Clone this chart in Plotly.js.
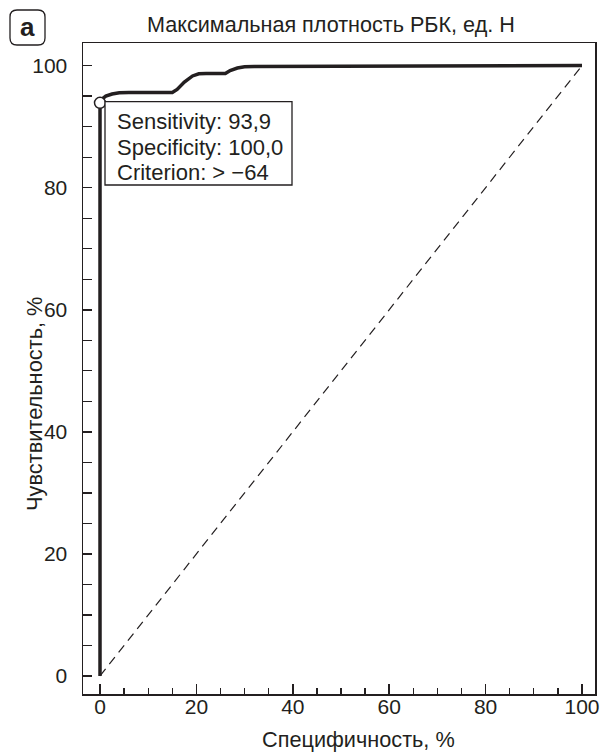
<!DOCTYPE html>
<html>
<head>
<meta charset="utf-8">
<script src="https://cdn.plot.ly/plotly-3.0.1.min.js"></script>
<style>html,body{margin:0;padding:0;background:#fff;}</style>
</head>
<body>
<div id="chart" style="width:601px;height:752px;"></div>
<script>
// ROC curve (x = 100 - specificity, y = sensitivity)
const rocX = [0, 0, 0.4, 1.2, 2.5, 4, 6, 15, 16, 17.5, 19.2, 20.5, 22, 26, 27, 28.5, 30, 32, 100];
const rocY = [0, 93.9, 94.5, 95.0, 95.35, 95.55, 95.6, 95.6, 96.1, 97.3, 98.3, 98.65, 98.7, 98.7, 99.2, 99.6, 99.8, 99.85, 100];
const refX = [0, 100];
const refY = [0, 100];
const cutX = [0];
const cutY = [93.9];
const boxLines = ["Sensitivity: 93,9", "Specificity: 100,0", "Criterion: > \u221264"];
const titleText = "Максимальная плотность РБК, ед. Н";
const xTitle = "Специфичность, %";
const yTitle = "Чувствительность, %";
const panelLabel = "a";

const W = 601, H = 752;
const M = {l: 83, r: 6, t: 43, b: 58};
const pw = W - M.l - M.r, ph = H - M.t - M.b;
const px = x => (x - M.l) / pw;      // pixel -> paper x
const py = y => (H - M.b - y) / ph;  // pixel -> paper y

const FONT = "Liberation Sans, Arial, Helvetica, sans-serif";
const ink = "#231f20";

function roundRect(x0, y0, x1, y1, r) {
  const X = v => px(v), Y = v => py(v);
  return `M ${X(x0 + r)} ${Y(y0)} L ${X(x1 - r)} ${Y(y0)} Q ${X(x1)} ${Y(y0)} ${X(x1)} ${Y(y0 + r)} ` +
         `L ${X(x1)} ${Y(y1 - r)} Q ${X(x1)} ${Y(y1)} ${X(x1 - r)} ${Y(y1)} ` +
         `L ${X(x0 + r)} ${Y(y1)} Q ${X(x0)} ${Y(y1)} ${X(x0)} ${Y(y1 - r)} ` +
         `L ${X(x0)} ${Y(y0 + r)} Q ${X(x0)} ${Y(y0)} ${X(x0 + r)} ${Y(y0)} Z`;
}

const traces = [
  {x: refX, y: refY, mode: "lines", line: {color: ink, width: 1.2, dash: "9px,6px"}, hoverinfo: "skip"},
  {x: rocX, y: rocY, mode: "lines", line: {color: ink, width: 3.5, shape: "linear"}, hoverinfo: "skip"},
  {x: cutX, y: cutY, mode: "markers", marker: {symbol: "circle", size: 11, color: "#fff", line: {color: ink, width: 1.5}}, hoverinfo: "skip"}
];

// info box (pixel layout next to the cut-off marker)
const boxL = 105, boxT = 101.7, boxR = 292, boxB = 185, textL = 115, lineY0 = 122, lineStep = 25;
const boxAnn = boxLines.map((t, i) => ({
  xref: "paper", yref: "paper", x: px(textL), y: py(lineY0 + i * lineStep), text: t, showarrow: false,
  xanchor: "left", yanchor: "middle", align: "left", font: {size: 22, color: ink}
}));

const layout = {
  width: W, height: H,
  margin: M,
  paper_bgcolor: "#fff", plot_bgcolor: "#fff",
  showlegend: false,
  font: {family: FONT, color: ink, size: 21},
  xaxis: {
    range: [-3.53, 102.7], showgrid: false, zeroline: false,
    showline: true, linecolor: ink, linewidth: 1.5, mirror: true,
    tick0: 0, dtick: 20, ticks: "inside", ticklen: 10, tickwidth: 1.5, tickcolor: ink,
    minor: {dtick: 5, tick0: 0, ticks: "inside", ticklen: 6, tickwidth: 1.3, tickcolor: ink, showgrid: false},
    tickfont: {size: 21, color: ink}, ticklabelstandoff: -7
  },
  yaxis: {
    range: [-2.95, 103.7], showgrid: false, zeroline: false,
    showline: true, linecolor: ink, linewidth: 1.5, mirror: true,
    tick0: 0, dtick: 20, ticks: "inside", ticklen: 9, tickwidth: 1.5, tickcolor: ink,
    minor: {dtick: 5, tick0: 0, ticks: "inside", ticklen: 9, tickwidth: 1.3, tickcolor: ink, showgrid: false},
    tickfont: {size: 21, color: ink}, ticklabelstandoff: 10
  },
  shapes: [
    {type: "path", xref: "paper", yref: "paper", path: roundRect(10, 10, 45, 45, 7),
     line: {color: ink, width: 1.3}, fillcolor: "rgba(0,0,0,0)"},
    {type: "rect", xref: "paper", yref: "paper", x0: px(boxL), x1: px(boxR), y0: py(boxB), y1: py(boxT),
     line: {color: ink, width: 1.3}, fillcolor: "#fff", layer: "above"}
  ],
  annotations: [
    {xref: "paper", yref: "paper", x: px(331), y: py(24), text: titleText, showarrow: false,
     xanchor: "center", yanchor: "middle", font: {size: 21.6, color: ink}},
    {xref: "paper", yref: "paper", x: px(358), y: py(739), text: xTitle, showarrow: false,
     xanchor: "center", yanchor: "middle", font: {size: 21.7, color: ink}},
    {xref: "paper", yref: "paper", x: px(34), y: py(404), text: yTitle, showarrow: false, textangle: -90,
     xanchor: "center", yanchor: "middle", font: {size: 21.8, color: ink}},
    {xref: "paper", yref: "paper", x: px(27.5), y: py(27), text: "<b>" + panelLabel + "</b>", showarrow: false,
     xanchor: "center", yanchor: "middle", font: {size: 26, color: ink}},
    ...boxAnn
  ]
};

Plotly.newPlot("chart", traces, layout, {staticPlot: true, displayModeBar: false});
</script>
</body>
</html>
